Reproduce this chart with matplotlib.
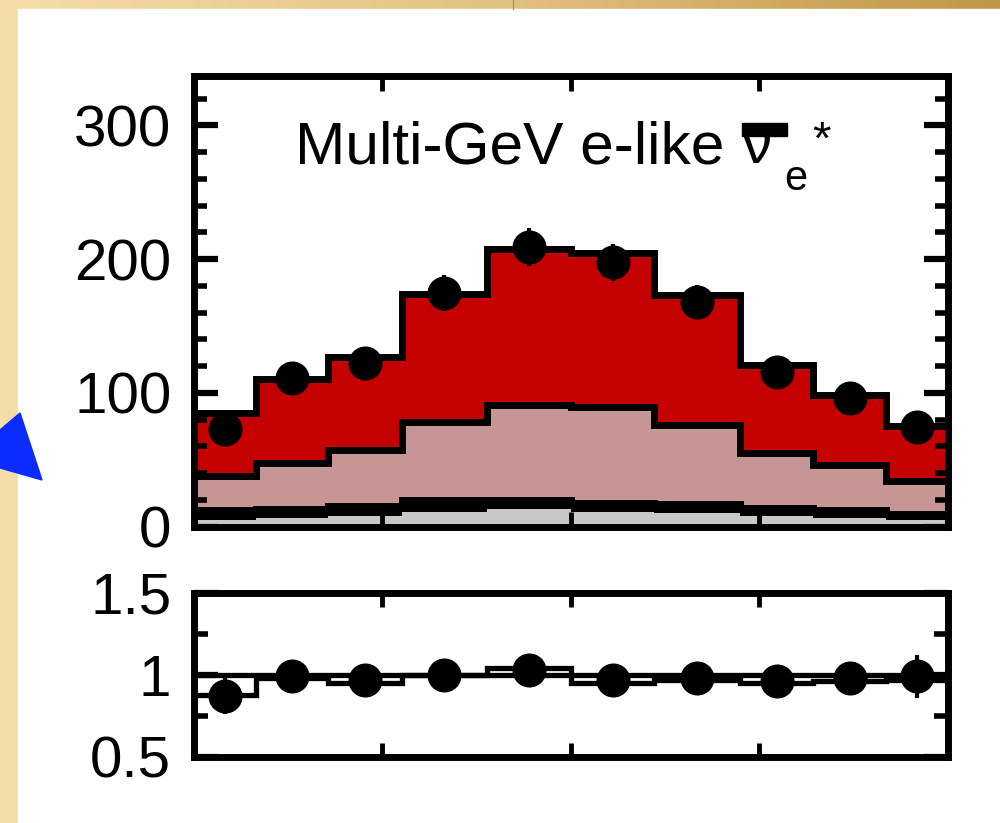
import numpy as np
import matplotlib
matplotlib.use('Agg')
import matplotlib.pyplot as plt
from matplotlib.patches import Rectangle, Polygon
from matplotlib.colors import LinearSegmentedColormap
from matplotlib.ticker import MultipleLocator, FixedLocator, NullLocator

plt.rcParams['font.family'] = ['Liberation Sans', 'DejaVu Sans']

# zenith-angle bins (cos theta)
bin_edges = [-1.0, -0.835, -0.643, -0.448, -0.222, 0.0, 0.222, 0.448, 0.643, 0.835, 1.0]

# stacked MC components (cumulative tops)
gray_top = [4.5, 6.5, 8, 10.8, 13, 10.8, 10, 7.5, 6, 4.5]
band_top = [12.2, 13.4, 15, 19.5, 19.5, 17.5, 16.5, 14, 12.5, 9.5]
pink_top = [37.5, 47.5, 57, 78, 91, 89.5, 76, 55, 46, 34]
total_mc = [85, 110.7, 127, 174, 207.5, 204.5, 172.8, 121, 98.7, 75.5]

# data
data_counts = [73.3, 111.4, 122.3, 174.6, 209, 197.5, 168, 115.6, 96, 74.4]
data_err = [8.6, 10.6, 11.1, 13.2, 14.5, 14.1, 13.0, 10.8, 9.8, 8.6]

# ratio panel
ratio_line = [0.875, 0.98, 0.95, 1.0, 1.04, 0.95, 0.97, 0.95, 0.96, 0.97]
ratio_data = [0.87, 0.99, 0.97, 1.0, 1.03, 0.97, 0.98, 0.96, 0.98, 0.99]
ratio_err = [0.11, 0.10, 0.09, 0.08, 0.07, 0.07, 0.08, 0.09, 0.10, 0.13]

RED = '#c40000'
PINK = '#c69595'
GRAY = '#c8c8c8'

W, H = 1000, 823
edges = np.array(bin_edges)
centers = 0.5 * (edges[:-1] + edges[1:])

fig = plt.figure(figsize=(W / 100, H / 100), dpi=100)

# slide background, drawn in pixel coordinates
bg = fig.add_axes([0, 0, 1, 1])
bg.set_zorder(-1)
bg.set_xlim(0, W)
bg.set_ylim(H, 0)
bg.axis('off')
cmap = LinearSegmentedColormap.from_list('gold', ['#f4dda8', '#e2c282', '#c19645'])
grad = np.tile(np.linspace(0, 1, 256), (2, 1))
bg.imshow(grad, cmap=cmap, extent=(0, W, H, 0), aspect='auto')
bg.plot([513, 513], [0, 9], color='#b58f4a', lw=1)
bg.add_patch(Rectangle((18, 9), W - 18, H - 9, color='white'))
bg.add_patch(Polygon([(0, 430), (20, 413), (42, 480), (0, 468)], color='#0b2bff'))


def px_axes(x0, y0, x1, y1):
    return fig.add_axes([x0 / W, 1 - y1 / H, (x1 - x0) / W, (y1 - y0) / H])


ax = px_axes(193.5, 76.5, 948, 526.5)
axr = px_axes(193.5, 593, 948, 756.5)

# --- main panel ---
ax.stairs(total_mc, edges, baseline=pink_top, fill=True, color=RED, lw=0)
ax.stairs(pink_top, edges, baseline=band_top, fill=True, color=PINK, lw=0)
ax.stairs(band_top, edges, baseline=gray_top, fill=True, color='k', lw=0)
ax.stairs(gray_top, edges, baseline=0, fill=True, color=GRAY, lw=0)
for vals in (total_mc, pink_top, band_top):
    ax.stairs(vals, edges, baseline=None, color='k', lw=5)
ax.errorbar(centers, data_counts, yerr=data_err, fmt='o', color='k',
            ms=23.5, elinewidth=3, capsize=0, zorder=5)

ax.set_xlim(-1, 1)
ax.set_ylim(0, 336.6)
ax.xaxis.set_major_locator(FixedLocator([-0.5, 0, 0.5]))
ax.xaxis.set_minor_locator(NullLocator())
ax.yaxis.set_major_locator(MultipleLocator(100))
ax.yaxis.set_minor_locator(MultipleLocator(20))
ax.tick_params(axis='both', which='both', direction='in', top=True, right=True)
ax.tick_params(axis='x', which='major', length=11, width=3.5, labelbottom=False)
ax.tick_params(axis='y', which='major', length=17, width=4.5, labelsize=42, pad=16)
ax.tick_params(axis='y', which='minor', length=9.5, width=4)

# title with nu-bar
ax.text(295, 163, 'Multi-GeV e-like', transform=bg.transData, fontsize=43.5,
        ha='left', va='baseline')
ax.text(742, 163, '\u03bd', transform=bg.transData, fontsize=43.5,
        ha='left', va='baseline')
ax.add_patch(Rectangle((742, 123), 45, 13, transform=bg.transData,
                       color='k', clip_on=False))
ax.text(784, 190, 'e', transform=bg.transData, fontsize=30,
        ha='left', va='baseline')
ax.text(812, 154, '*', transform=bg.transData, fontsize=34,
        ha='left', va='baseline')

# --- ratio panel ---
axr.axhline(1, color='k', lw=3.8)
axr.stairs(ratio_line, edges, baseline=None, color='k', lw=3.8)
axr.errorbar(centers, ratio_data, yerr=ratio_err, fmt='o', color='k',
             ms=23.5, elinewidth=3, capsize=0, zorder=5)
axr.set_xlim(-1, 1)
axr.set_ylim(0.5, 1.5)
axr.xaxis.set_major_locator(FixedLocator([-0.5, 0, 0.5]))
axr.xaxis.set_minor_locator(NullLocator())
axr.yaxis.set_major_locator(FixedLocator([0.5, 1, 1.5]))
axr.yaxis.set_minor_locator(FixedLocator([0.75, 1.25]))
axr.set_yticklabels(['0.5', '1', '1.5'])
axr.tick_params(axis='both', which='both', direction='in', top=True, right=True)
axr.tick_params(axis='x', which='major', length=10, width=3.5, labelbottom=False)
axr.tick_params(axis='y', which='major', length=17, width=4.5, labelsize=42, pad=16)
axr.tick_params(axis='y', which='minor', length=10, width=4)

for a in (ax, axr):
    for s in a.spines.values():
        s.set_linewidth(5)

fig.savefig('out.png', dpi=100)
